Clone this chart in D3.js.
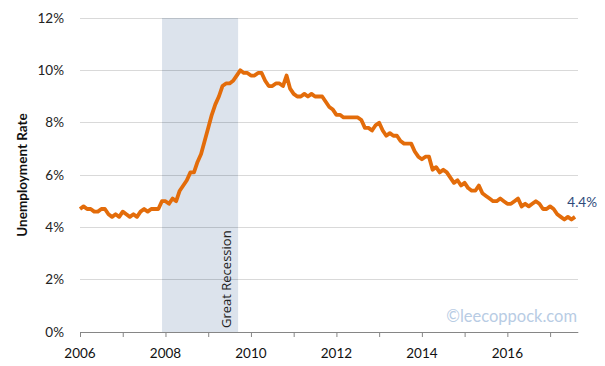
<!DOCTYPE html>
<html><head><meta charset="utf-8">
<script src="https://cdn.jsdelivr.net/npm/d3@7"></script>
<style>body{margin:0;background:#fff}svg{display:block}text{font-family:Lato,"Open Sans",sans-serif}</style>
</head><body>
<svg id="c" width="605" height="366"></svg>
<script>
const startYear = 2006;
const rates = [
4.7,4.8,4.7,4.7,4.6,4.6,4.7,4.7,4.5,4.4,4.5,4.4,
4.6,4.5,4.4,4.5,4.4,4.6,4.7,4.6,4.7,4.7,4.7,5.0,
5.0,4.9,5.1,5.0,5.4,5.6,5.8,6.1,6.1,6.5,6.8,7.3,
7.8,8.3,8.7,9.0,9.4,9.5,9.5,9.6,9.8,10.0,9.9,9.9,
9.8,9.8,9.9,9.9,9.6,9.4,9.4,9.5,9.5,9.4,9.8,9.3,
9.1,9.0,9.0,9.1,9.0,9.1,9.0,9.0,9.0,8.8,8.6,8.5,
8.3,8.3,8.2,8.2,8.2,8.2,8.2,8.1,7.8,7.8,7.7,7.9,
8.0,7.7,7.5,7.6,7.5,7.5,7.3,7.2,7.2,7.2,6.9,6.7,
6.6,6.7,6.7,6.2,6.3,6.1,6.2,6.1,5.9,5.7,5.8,5.6,
5.7,5.5,5.4,5.4,5.6,5.3,5.2,5.1,5.0,5.0,5.1,5.0,
4.9,4.9,5.0,5.1,4.8,4.9,4.8,4.9,5.0,4.9,4.7,4.7,
4.8,4.7,4.5,4.4,4.3,4.4,4.3,4.4];
const yTicks = [0,2,4,6,8,10,12];
const xLabelYears = [2006,2008,2010,2012,2014,2016];
const xTickYears = [2006,2007,2008,2009,2010,2011,2012,2013,2014,2015,2016,2017];
const recession = [2007.92, 2009.70];
const recessionLabel = "Great Recession";
const yTitle = "Unemployment Rate";
const endLabel = "4.4%";
const watermark = "©leecoppock.com";

const svg = d3.select("#c");
const x = d3.scaleLinear().domain([2006, 2017.66]).range([80, 578.3]);
const y = d3.scaleLinear().domain([0, 12]).range([332, 18]);

svg.append("rect").attr("x", x(recession[0])).attr("y", y(12))
  .attr("width", x(recession[1]) - x(recession[0])).attr("height", y(0) - y(12))
  .attr("fill", "#dce3ec");

svg.append("g").selectAll("line").data(yTicks.filter(d => d > 0)).join("line")
  .attr("x1", 80).attr("x2", 578.3).attr("y1", d => y(d)).attr("y2", d => y(d))
  .attr("stroke", "#d9d9d9").attr("stroke-width", 1).attr("shape-rendering", "crispEdges");
svg.append("g").selectAll("line").data(yTicks.filter(d => d > 0)).join("line")
  .attr("x1", x(recession[0])).attr("x2", x(recession[1])).attr("y1", d => y(d)).attr("y2", d => y(d))
  .attr("stroke", "#b9c0c8").attr("stroke-width", 1).attr("shape-rendering", "crispEdges");

svg.append("g").selectAll("text").data(yTicks).join("text")
  .attr("x", 64).attr("y", d => y(d)).attr("dy", "0.35em").attr("text-anchor", "end")
  .attr("font-size", 13.5).attr("fill", "#222").text(d => d + "%");

const xAxis = d3.axisBottom(x).tickValues(xTickYears).tickSize(5).tickFormat("");
const gx = svg.append("g").attr("transform", `translate(0,${y(0)})`).call(xAxis);
gx.select(".domain").attr("d", `M80,0.5H578.3`).attr("stroke", "#868686");
gx.selectAll(".tick line").attr("stroke", "#868686");
svg.append("g").selectAll("text").data(xLabelYears).join("text")
  .attr("x", d => x(d)).attr("y", 358).attr("text-anchor", "middle")
  .attr("font-size", 13.5).attr("fill", "#111").text(d => d);

svg.append("text").attr("transform", "translate(27,175) rotate(-90)")
  .attr("text-anchor", "middle").attr("font-size", 13.5).attr("font-weight", "bold")
  .attr("fill", "#111").text(yTitle);

svg.append("text").attr("transform", `translate(230.5,328) rotate(-90)`)
  .style("font-family", "'Open Sans',sans-serif")
  .attr("font-size", 13).attr("fill", "#222").text(recessionLabel);

svg.append("text").attr("x", 577).attr("y", 322).attr("text-anchor", "end")
  .attr("font-size", 16.5).attr("fill", "#b8cce4").text(watermark);

const line = d3.line().x((d, i) => x(startYear + i / 12)).y(d => y(d));
svg.append("path").datum(rates).attr("d", line).attr("fill", "none")
  .attr("stroke", "#e36c0a").attr("stroke-width", 3.8).attr("stroke-linejoin", "round");

svg.append("text").attr("x", 597).attr("y", 207).attr("text-anchor", "end")
  .attr("font-size", 13.5).attr("fill", "#2e4a7a").text(endLabel);
</script>
</body></html>
